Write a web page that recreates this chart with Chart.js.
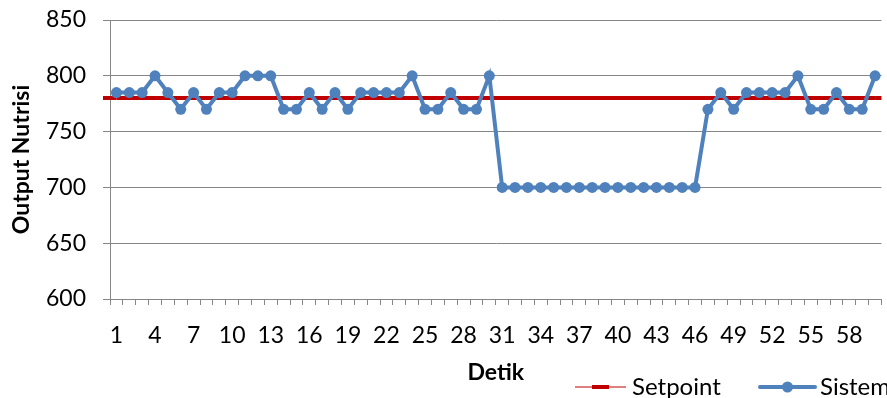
<!DOCTYPE html>
<html>
<head>
<meta charset="utf-8">
<script src="https://cdn.jsdelivr.net/npm/chart.js@4/dist/chart.umd.min.js"></script>
<style>
  html, body { margin: 0; padding: 0; background: #fff; overflow: hidden; }
  #wrap { width: 887px; height: 398px; }
</style>
</head>
<body>
<div id="wrap"><canvas id="chart" width="887" height="398"></canvas></div>
<script>
// Time in seconds (Detik)
const detik = [
  '1','2','3','4','5','6','7','8','9','10',
  '11','12','13','14','15','16','17','18','19','20',
  '21','22','23','24','25','26','27','28','29','30',
  '31','32','33','34','35','36','37','38','39','40',
  '41','42','43','44','45','46','47','48','49','50',
  '51','52','53','54','55','56','57','58','59','60'
];

// Labelled ticks on the time axis
const xTickLabels = ['1','4','7','10','13','16','19','22','25','28','31','34','37','40','43','46','49','52','55','58'];

// Target nutrient output
const setpoint = [
  780,780,780,780,780,780,780,780,780,780,
  780,780,780,780,780,780,780,780,780,780,
  780,780,780,780,780,780,780,780,780,780,
  780,780,780,780,780,780,780,780,780,780,
  780,780,780,780,780,780,780,780,780,780,
  780,780,780,780,780,780,780,780,780,780
];

// Measured system output
const sistem = [
  785,785,785,800,785,770,785,770,785,785,
  800,800,800,770,770,785,770,785,770,785,
  785,785,785,800,770,770,785,770,770,800,
  700,700,700,700,700,700,700,700,700,700,
  700,700,700,700,700,700,770,785,770,785,
  785,785,785,800,770,770,785,770,770,800
];

const FONT = 'Lato, "Liberation Sans", sans-serif';
const GRID = '#868686';
const RED = '#C00000';
const BLUE = '#4F81BD';

// Stretch the setpoint line from its end points out to the plot edges
const setpointEdges = {
  id: 'setpointEdges',
  beforeDatasetsDraw(chart) {
    const idx = chart.data.datasets.findIndex(d => d.label === 'Setpoint');
    const meta = chart.getDatasetMeta(idx);
    if (!meta || !meta.data.length) return;
    const first = meta.data[0];
    const last = meta.data[meta.data.length - 1];
    const area = chart.chartArea;
    const ds = chart.data.datasets[idx];
    const ctx = chart.ctx;
    ctx.save();
    ctx.strokeStyle = ds.borderColor;
    ctx.lineWidth = ds.borderWidth;
    ctx.beginPath();
    ctx.moveTo(area.left - 7, first.y);
    ctx.lineTo(first.x, first.y);
    ctx.moveTo(last.x, last.y);
    ctx.lineTo(area.right, last.y);
    ctx.stroke();
    ctx.restore();
  }
};

// Legend drawn below the axis title, Excel style (line sample + name)
const legendPlugin = {
  id: 'bottomLegend',
  afterDraw(chart) {
    const ctx = chart.ctx;
    const area = chart.chartArea;
    const y = 387;
    const sets = chart.data.datasets;
    ctx.save();
    ctx.font = '24px ' + FONT;
    ctx.fillStyle = '#000';
    ctx.textBaseline = 'middle';
    ctx.textAlign = 'left';

    // Setpoint: thin line with a thicker centre segment
    const x0 = area.left + 465;
    ctx.strokeStyle = sets[0].borderColor;
    ctx.lineWidth = 1.2;
    ctx.beginPath(); ctx.moveTo(x0, y); ctx.lineTo(x0 + 51, y); ctx.stroke();
    ctx.lineWidth = 4;
    ctx.beginPath(); ctx.moveTo(x0 + 17, y); ctx.lineTo(x0 + 34, y); ctx.stroke();
    ctx.fillText(sets[0].label, x0 + 57, y);

    // Sistem: thick line with a round marker
    const x1 = area.left + 650;
    ctx.strokeStyle = sets[1].borderColor;
    ctx.lineWidth = 4;
    ctx.lineCap = 'round';
    ctx.beginPath(); ctx.moveTo(x1, y); ctx.lineTo(x1 + 55, y); ctx.stroke();
    ctx.fillStyle = sets[1].pointBackgroundColor;
    ctx.beginPath(); ctx.arc(x1 + 27.5, y, 5.5, 0, Math.PI * 2); ctx.fill();
    ctx.fillStyle = '#000';
    ctx.fillText(sets[1].label, x1 + 60, y);
    ctx.restore();
  }
};

new Chart(document.getElementById('chart'), {
  type: 'line',
  data: {
    labels: detik,
    datasets: [
      {
        label: 'Setpoint',
        data: setpoint,
        borderColor: RED,
        backgroundColor: RED,
        borderWidth: 4,
        pointRadius: 0,
        tension: 0,
        order: 1
      },
      {
        label: 'Sistem',
        data: sistem,
        borderColor: BLUE,
        backgroundColor: BLUE,
        pointBackgroundColor: BLUE,
        pointBorderColor: BLUE,
        borderWidth: 4,
        pointRadius: 5.5,
        pointBorderWidth: 0,
        tension: 0,
        order: 0
      }
    ]
  },
  options: {
    responsive: false,
    animation: false,
    layout: { padding: { top: 20, right: 0, bottom: 0, left: 0 } },
    plugins: {
      legend: { display: false },
      tooltip: { enabled: false }
    },
    scales: {
      x: {
        offset: true,
        grid: {
          offset: true,
          drawOnChartArea: false,
          drawTicks: true,
          tickLength: 6,
          color: GRID
        },
        border: { color: GRID, width: 1 },
        ticks: {
          autoSkip: false,
          maxRotation: 0,
          padding: 17,
          color: '#000',
          font: { family: FONT, size: 23 },
          callback(value) {
            const lbl = this.getLabelForValue(value);
            return xTickLabels.includes(lbl) ? lbl : '';
          }
        },
        title: {
          display: true,
          text: 'Detik',
          color: '#000',
          font: { family: FONT, size: 23, weight: 'bold' },
          padding: { top: 0, bottom: 12 }
        },
        afterFit(scale) {
          scale.height = 99;
          scale.paddingLeft = 0;
          scale.paddingRight = 0;
        }
      },
      y: {
        min: 600,
        max: 850,
        grid: {
          color: GRID,
          drawTicks: true,
          tickLength: 7
        },
        border: { color: GRID, width: 1 },
        ticks: {
          stepSize: 50,
          padding: 17,
          color: '#000',
          font: { family: FONT, size: 23 }
        },
        title: {
          display: true,
          text: 'Output Nutrisi',
          color: '#000',
          font: { family: FONT, size: 23, weight: 'bold' },
          padding: { top: 8, bottom: 0 }
        },
        afterFit(scale) {
          scale.width = 110;
          scale.paddingTop = 0;
          scale.paddingBottom = 0;
        }
      }
    }
  },
  plugins: [setpointEdges, legendPlugin]
});
</script>
</body>
</html>
